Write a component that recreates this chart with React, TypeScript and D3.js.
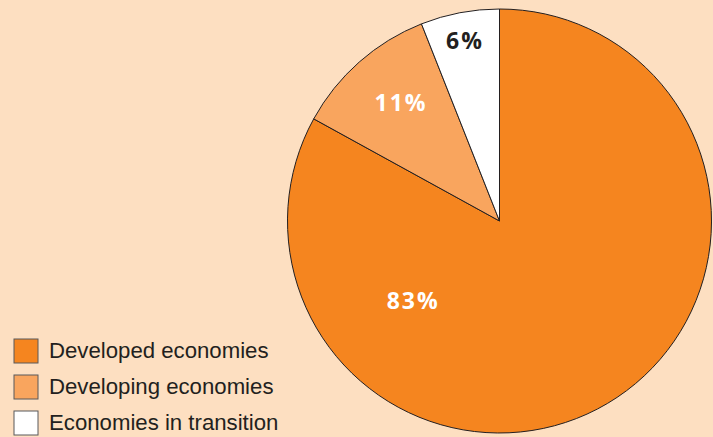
import React from "react";
import * as d3 from "d3";

const categories = ["Developed economies", "Developing economies", "Economies in transition"];
const values = [83, 11, 6];
const labels = ["83%", "11%", "6%"];
const colors = ["#F5851F", "#F9A55E", "#FFFFFF"];
const labelColors = ["#FFFFFF", "#FFFFFF", "#231F20"];

// label placement (angle in degrees clockwise from top, radius as fraction of R)
const labelAngles = [227.7, 320, 348.9];
const labelRadii = [0.557, 0.73, 0.87];

const W = 713;
const H = 437;
const cx = 499.5;
const cy = 221;
const R = 212;

export default function App() {
  const pie = d3.pie<number>().sort(null).value((d) => d)(values);
  const arc = d3.arc<d3.PieArcDatum<number>>().innerRadius(0).outerRadius(R);
  const ls = 2;
  return (
    <svg width={W} height={H} style={{ position: "absolute", left: 0, top: 0, display: "block" }}>
      <rect x={0} y={0} width={W} height={H} fill="#FDDFC1" />
      <g transform={`translate(${cx},${cy})`}>
        {pie.map((p, i) => (
          <path key={i} d={arc(p) || ""} fill={colors[i]} stroke="#231F20" strokeWidth={1} />
        ))}
        {pie.map((p, i) => {
          const a = (labelAngles[i] * Math.PI) / 180;
          const r = R * labelRadii[i];
          const x = Math.sin(a) * r + ls / 2;
          const y = -Math.cos(a) * r;
          return (
            <text
              key={i}
              x={x}
              y={y}
              textAnchor="middle"
              dominantBaseline="central"
              fill={labelColors[i]}
              fontFamily="'Open Sans', sans-serif"
              fontWeight={700}
              fontSize={23}
              letterSpacing={ls}
            >
              {labels[i]}
            </text>
          );
        })}
      </g>
      <g>
        {categories.map((c, i) => (
          <g key={c} transform={`translate(14,${339 + i * 36})`}>
            <rect x={0} y={0} width={24} height={24} fill={colors[i]} stroke="#58595B" strokeWidth={1} />
            <text x={35} y={18.7} fontFamily="'Liberation Sans', Arial, sans-serif" fontSize={22.2} fill="#231F20">
              {c}
            </text>
          </g>
        ))}
      </g>
    </svg>
  );
}
